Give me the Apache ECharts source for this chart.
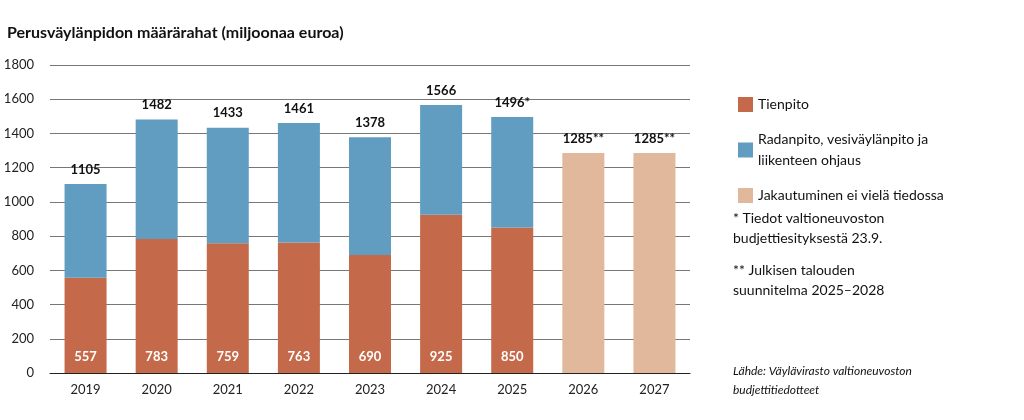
<!DOCTYPE html>
<html><head><meta charset="utf-8">
<script src="https://cdn.jsdelivr.net/npm/echarts@6/dist/echarts.min.js"></script>
<style>html,body{margin:0;background:#fff}#c{width:1024px;height:420px}</style>
</head><body><div id="c"></div>
<script>
var years = ['2019','2020','2021','2022','2023','2024','2025','2026','2027'];
var tienpito = [557, 783, 759, 763, 690, 925, 850, null, null];
var totals = [1105, 1482, 1433, 1461, 1378, 1566, 1496, 1285, 1285];
var totalLabels = ['1105','1482','1433','1461','1378','1566','1496*','1285**','1285**'];
var radanpito = totals.map(function (t, i) { return tienpito[i] == null ? null : t - tienpito[i]; });
var jakautuminen = totals.map(function (t, i) { return tienpito[i] == null ? t : null; });
var F = 'Lato';

var topLabel = {
    show: true, position: 'top', distance: 8, color: '#111', fontWeight: 'bold', fontSize: 13, fontFamily: F,
    formatter: function (p) { return totalLabels[p.dataIndex]; }
};

option = {
    animation: false,
    title: {
        text: 'Perusväylänpidon määrärahat (miljoonaa euroa)',
        left: 2, top: 20,
        textStyle: { fontSize: 16, fontWeight: 'bold', color: '#111', fontFamily: F }
    },
    legend: {
        orient: 'vertical', left: 733, top: 89, itemGap: 14,
        icon: 'rect', itemWidth: 15, itemHeight: 15,
        textStyle: { fontSize: 14, color: '#111', fontFamily: F, lineHeight: 21 },
        data: ['Tienpito', 'Radanpito, vesiväylänpito ja\nliikenteen ohjaus', 'Jakautuminen ei vielä tiedossa']
    },
    graphic: [
        { type: 'text', left: 733, top: 208, style: { text: '* Tiedot valtioneuvoston\nbudjettiesityksestä 23.9.', fontSize: 14, lineHeight: 20, fill: '#111', fontFamily: F } },
        { type: 'text', left: 733, top: 260, style: { text: '** Julkisen talouden\nsuunnitelma 2025–2028', fontSize: 14, lineHeight: 20, fill: '#111', fontFamily: F } },
        { type: 'text', left: 733, top: 362, style: { text: 'Lähde: Väylävirasto valtioneuvoston\nbudjettitiedotteet', fontSize: 12, lineHeight: 19, fontStyle: 'italic', fill: '#111', fontFamily: F } }
    ],
    grid: { left: 50, right: 334, top: 65, bottom: 47 },
    xAxis: {
        type: 'category', data: years,
        axisLine: { lineStyle: { color: '#222' } }, axisTick: { show: false },
        axisLabel: { color: '#222', fontSize: 13, fontFamily: F, margin: 10 }
    },
    yAxis: {
        type: 'value', min: 0, max: 1800, interval: 200,
        axisLine: { show: false }, axisTick: { show: false },
        splitLine: { lineStyle: { color: '#777' } },
        axisLabel: { color: '#222', fontSize: 13, fontFamily: F, margin: 16, formatter: function (v) { return String(v); } }
    },
    series: [
        {
            name: 'Tienpito', type: 'bar', stack: 'a', barWidth: 42, data: tienpito,
            itemStyle: { color: '#c46a4a' },
            label: { show: true, position: 'insideBottom', distance: 10, color: '#fff', fontWeight: 'bold', fontSize: 13, fontFamily: F }
        },
        {
            name: 'Radanpito, vesiväylänpito ja\nliikenteen ohjaus', type: 'bar', stack: 'a', data: radanpito,
            itemStyle: { color: '#609dc0' }, label: topLabel
        },
        {
            name: 'Jakautuminen ei vielä tiedossa', type: 'bar', stack: 'a', data: jakautuminen,
            itemStyle: { color: '#e2b89d' }, label: topLabel
        }
    ]
};
echarts.init(document.getElementById('c')).setOption(option);
</script></body></html>
